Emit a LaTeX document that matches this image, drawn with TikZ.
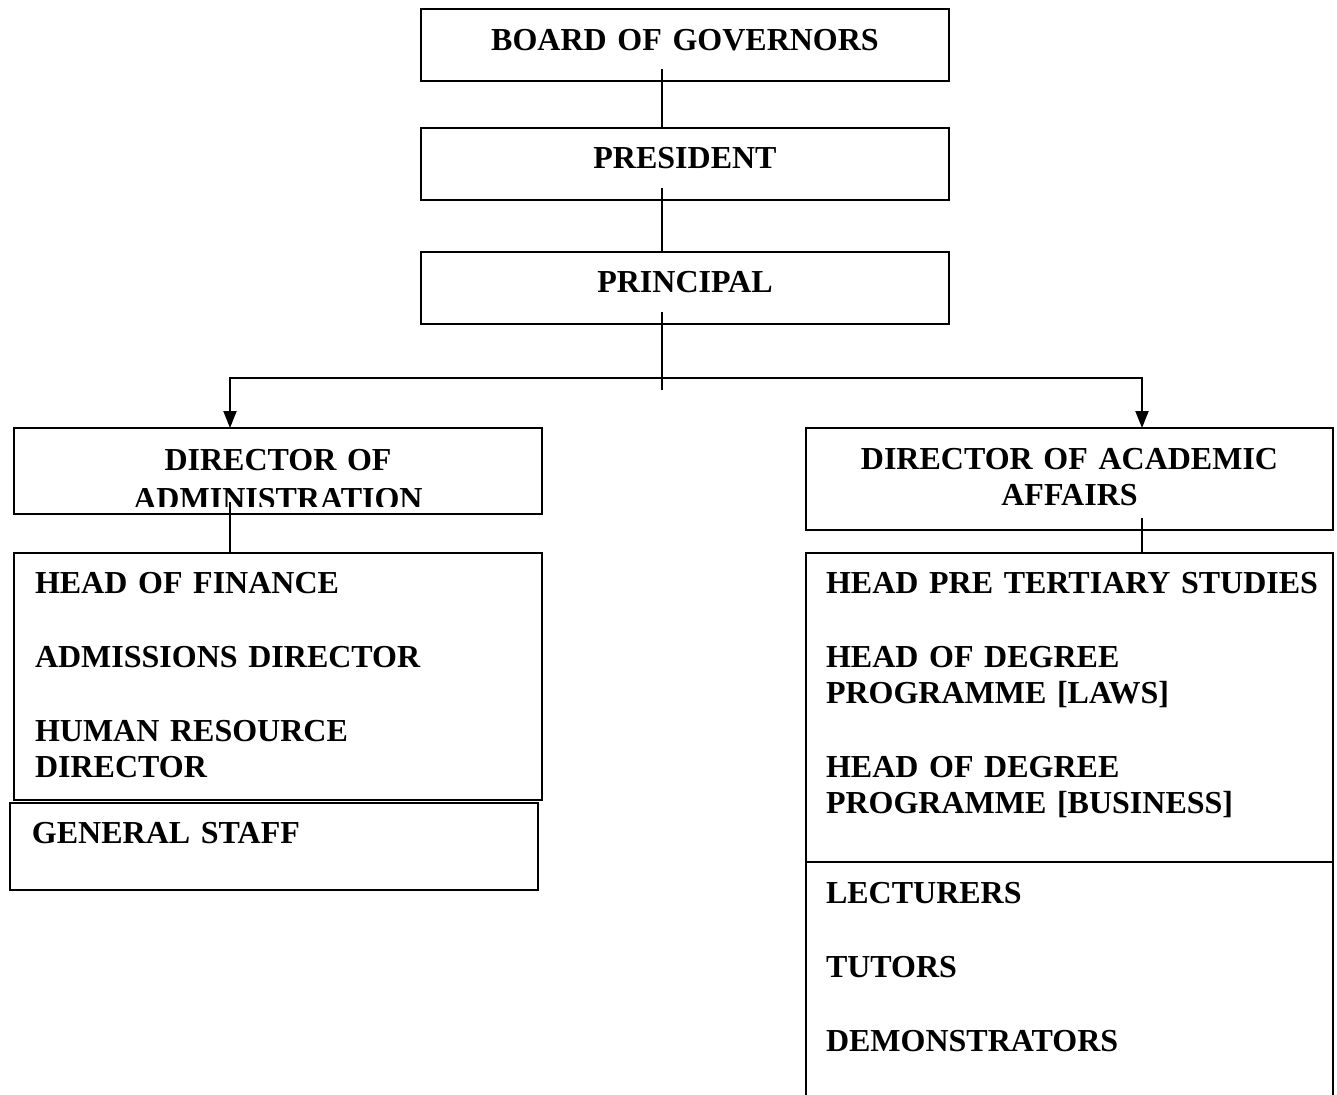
\documentclass[tikz,border=0pt]{standalone}
\usepackage{fontspec}
\setmainfont{Liberation Serif}
\usepackage{trimclip}
\usetikzlibrary{calc,arrows.meta}
\def\orgbox{\node[draw, line width=1pt, outer sep=0pt, anchor=north west, inner ysep=0pt, font=\bfseries\fontsize{16}{18}\selectfont]}
\def\drawlink{\draw[line width=1pt]}

\begin{document}
\begin{tikzpicture}[x=0.5pt,y=-0.5pt,>={Triangle[length=8.5pt,width=6.5pt]}]
\clip (0,0) rectangle (1337,1094);
\coordinate (spine) at (662,0);
\coordinate (fork) at (662,378);
\coordinate (forkend) at (662,390);
\coordinate (admx) at (230,0);
\coordinate (acadx) at (1142,0);
% top of the chart
\orgbox[text width=256pt, inner xsep=4pt, align=center, text height=20.5pt, text depth=15.5pt] (bog) at (421,9) {BOARD OF GOVERNORS};
\orgbox[text width=256pt, inner xsep=4pt, align=center, text height=20pt, text depth=16pt] (pres) at (421,128) {PRESIDENT};
\orgbox[text width=256pt, inner xsep=4pt, align=center, text height=20.25pt, text depth=15.75pt] (princ) at (421,252) {PRINCIPAL};
% directors
\orgbox[text width=256pt, inner xsep=4pt, align=center, text height=21.25pt, text depth=21.75pt] (doa) at (14,428) {DIRECTOR OF\\\clipbox{0pt 1.5pt 0pt 0pt}{ADMINISTRATION}};
\orgbox[text width=255.5pt, inner xsep=4pt, align=center, text height=20.75pt, text depth=30.25pt] (daa) at (806,428) {DIRECTOR OF ACADEMIC\\AFFAIRS};
% staff under each director
\orgbox[text width=243pt, inner xsep=10.5pt, align=left, text height=20.25pt, text depth=103.25pt] (admlist) at (14,553)
  {HEAD OF FINANCE\\[19pt]ADMISSIONS DIRECTOR\\[19pt]HUMAN RESOURCE\\DIRECTOR};
\orgbox[text width=242pt, inner xsep=11pt, align=left, text height=20.25pt, text depth=23.25pt] (genstaff) at (10,803) {GENERAL STAFF};
\orgbox[text width=243.5pt, inner xsep=10pt, align=left, text height=20.25pt, text depth=134.25pt] (acadlist) at (806,553)
  {\mbox{HEAD PRE TERTIARY STUDIES}\\[19pt]HEAD OF DEGREE\\PROGRAMME [LAWS]\\[19pt]HEAD OF DEGREE\\PROGRAMME [BUSINESS]};
\orgbox[text width=243.5pt, inner xsep=10pt, align=left, text height=20.75pt, text depth=108.25pt] (stafflist) at (806,862)
  {LECTURERS\\[19pt]TUTORS\\[19pt]DEMONSTRATORS};
% links
\drawlink ($(bog.south -| spine)+(0,-12)$) -- (pres.north -| spine);
\drawlink ($(pres.south -| spine)+(0,-12)$) -- (princ.north -| spine);
\drawlink ($(princ.south -| spine)+(0,-12)$) -- (forkend);
\drawlink[->] (fork) -| (doa.north -| admx);
\drawlink[->] (fork) -| (daa.north -| acadx);
\drawlink ($(doa.south -| admx)+(0,-12)$) -- (admlist.north -| admx);
\drawlink ($(daa.south -| acadx)+(0,-12)$) -- (acadlist.north -| acadx);
\end{tikzpicture}
\end{document}
